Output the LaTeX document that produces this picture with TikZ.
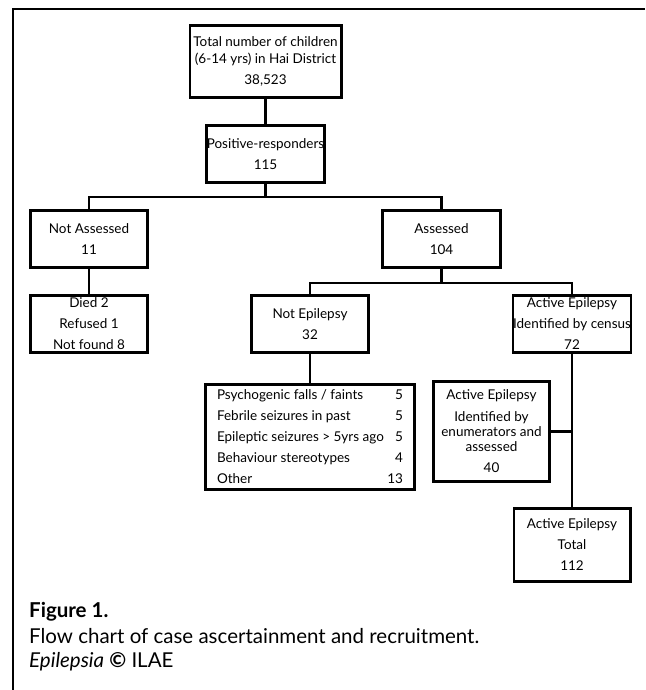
\documentclass[tikz,border=0pt]{standalone}
\usepackage{fontspec}
\setmainfont{Lato}
\begin{document}
\begin{tikzpicture}[x=1pt,y=-1pt,
  box/.style={draw, line width=2.6pt, inner sep=0pt, align=center, font=\fontsize{13.5}{21}\selectfont},
  conn/.style={line width=2.6pt},
  capt/.style={anchor=base west, inner sep=0pt, font=\fontsize{20.5}{23}\selectfont}]
\useasboundingbox[fill=white] (0,0) rectangle (645,690);
% frame
\draw[line width=2.4pt] (13,690) -- (13,9) -- (645,9);
% boxes
\node[box, minimum width=151.4pt, minimum height=72.4pt] (top) at (265.5,61.5)
  {Total number of children\\[-4pt](6-14 yrs) in Hai District\\38,523};
\node[box, minimum width=118.4pt, minimum height=57.4pt] (pos) at (265.5,154)
  {Positive-responders\\115};
\node[box, minimum width=117.4pt, minimum height=57.4pt] (notass) at (89,239)
  {Not Assessed\\11};
\node[box, minimum width=118.4pt, minimum height=57.4pt] (ass) at (441.5,239)
  {Assessed\\104};
\node[box, minimum width=117.4pt, minimum height=57.4pt] (died) at (89,324)
  {Died 2\\Refused 1\\Not found 8};
\node[box, minimum width=117.4pt, minimum height=57.4pt] (notepi) at (310,324)
  {Not Epilepsy\\32};
\node[box, minimum width=117.4pt, minimum height=57.4pt] (census) at (572,324)
  {Active Epilepsy\\Identified by census\\72};
\node[box, minimum width=209.4pt, minimum height=103.4pt] (list) at (310,437)
  {\begin{tabular*}{186pt}{@{}l@{\extracolsep{\fill}}r@{}}
   Psychogenic falls / faints & 5\\
   Febrile seizures in past & 5\\
   Epileptic seizures > 5yrs ago & 5\\
   Behaviour stereotypes & 4\\
   Other & 13
   \end{tabular*}};
\node[box, minimum width=116.4pt, minimum height=100.4pt, font=\fontsize{13.5}{15}\selectfont] (enum) at (491.5,431.5)
  {Active Epilepsy\\[7pt]Identified by\\enumerators and\\assessed\\[6pt]40};
\node[box, minimum width=116.4pt, minimum height=73.4pt] (total) at (572,545)
  {Active Epilepsy\\Total\\112};
% connectors
\coordinate (b1) at (265.5,197);
\coordinate (b2) at (441.5,283);
\draw[conn] (top.south) -- (pos.north);
\draw[conn] (pos.south) -- (b1);
\draw[conn] (notass.north) |- (b1) -| (ass.north);
\draw[conn] (notass.south) -- (died.north);
\draw[conn] (ass.south) -- (b2);
\draw[conn] (notepi.north) |- (b2) -| (census.north);
\draw[conn] (notepi.south) -- (list.north);
\draw[conn] (census.south) -- (total.north);
\draw[conn] (enum.east) -- (enum.east -| census.south);
% caption
\node[capt, font=\fontsize{20.5}{23}\bfseries] (fig) at (29,617) {Figure 1.};
\node[capt] (cap) at (29,643) {Flow chart of case ascertainment and recruitment.};
\node[capt] (src) at (29,667) {\textit{Epilepsia} \textbf{©} ILAE};
\end{tikzpicture}
\end{document}
